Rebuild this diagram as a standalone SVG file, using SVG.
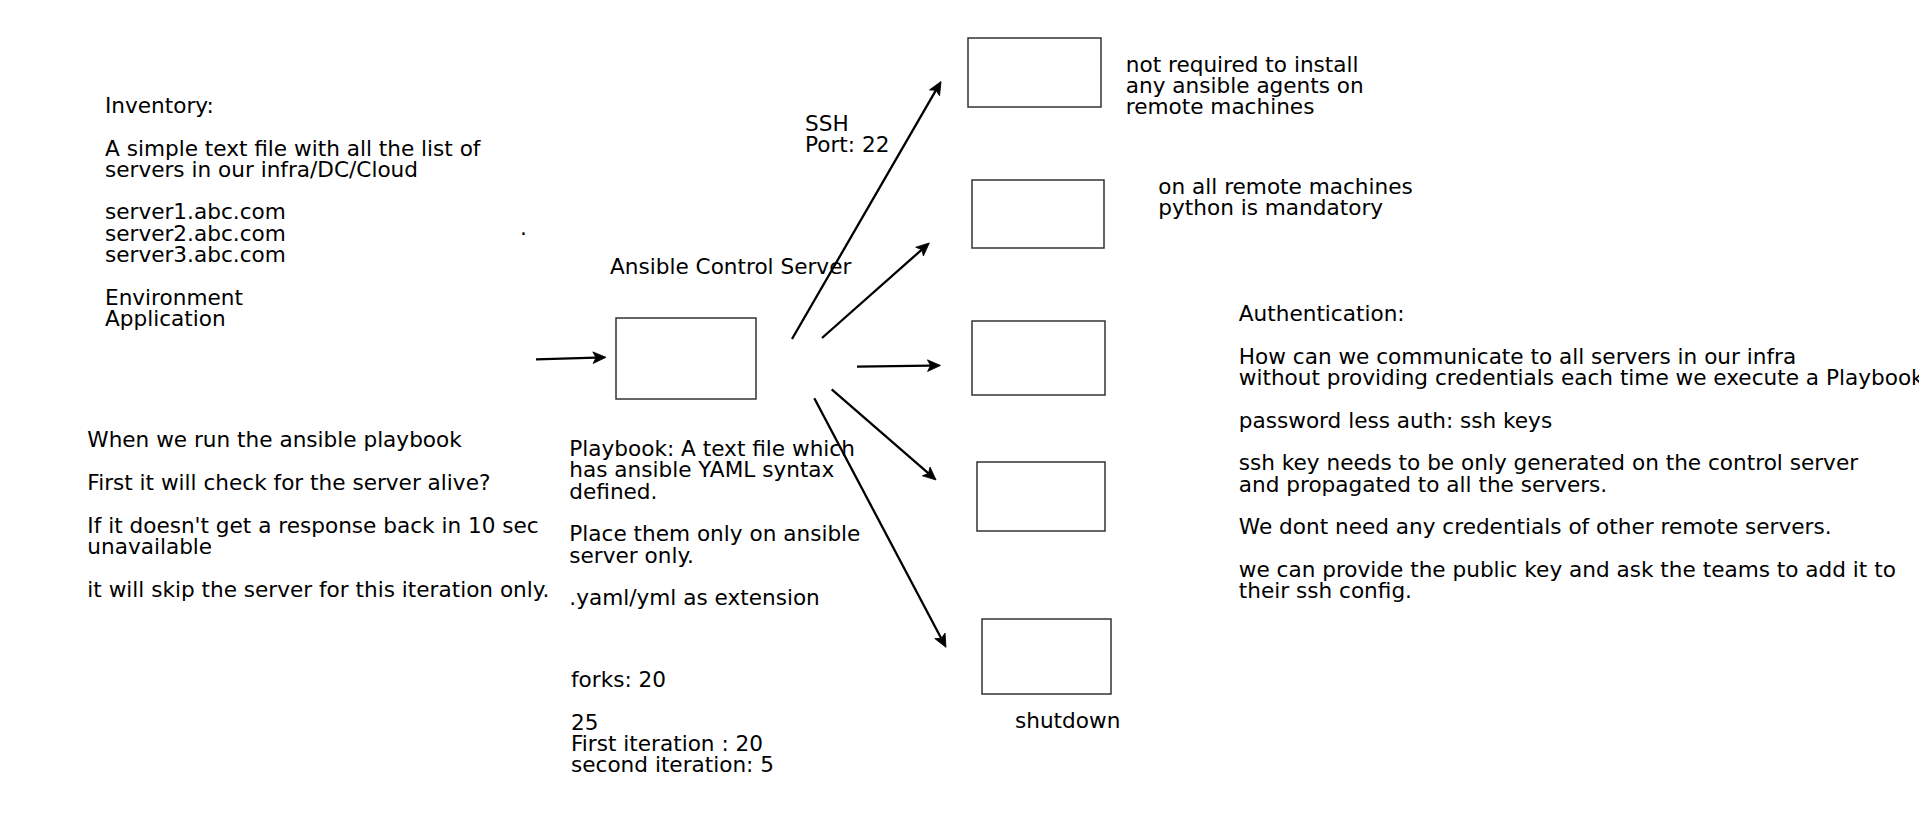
<svg xmlns="http://www.w3.org/2000/svg" width="1919" height="818" viewBox="0 0 1919 818">
<style>
text{font-family:"DejaVu Sans","Liberation Sans",sans-serif;font-size:21.6px;fill:#000}
.box{fill:#fff;stroke:#333;stroke-width:1.5}
.conn{stroke:#000;stroke-width:2.3;fill:none;marker-end:url(#arrow)}
</style>
<defs>
<marker id="arrow" markerUnits="userSpaceOnUse" markerWidth="16" markerHeight="14" viewBox="-1 -7 16 14" refX="3" refY="0" orient="auto">
<path d="M0,-5.8 L13,0 L0,5.8 L3,0 Z" fill="#000" stroke="#000" stroke-width="0.8"/>
</marker>
</defs>
<rect width="1919" height="818" fill="#fff"/>
<g id="inventory-text">
<text x="105" y="112.8">Inventory:</text>
<text x="105" y="155.5">A simple text file with all the list of</text>
<text x="105" y="176.8">servers in our infra/DC/Cloud</text>
<text x="105" y="219.3">server1.abc.com</text>
<text x="105" y="240.6">server2.abc.com</text>
<text x="105" y="261.9">server3.abc.com</text>
<text x="105" y="304.6">Environment</text>
<text x="105" y="325.9">Application</text>
</g>
<g id="dot"><text x="520" y="234.5">.</text></g>
<g id="run-text">
<text x="87.3" y="447.3">When we run the ansible playbook</text>
<text x="87.3" y="490">First it will check for the server alive?</text>
<text x="87.3" y="532.6">If it doesn't get a response back in 10 sec</text>
<text x="87.3" y="553.9">unavailable</text>
<text x="87.3" y="596.6">it will skip the server for this iteration only.</text>
</g>
<g id="control-label"><text x="610" y="274">Ansible Control Server</text></g>
<g id="control-server"><rect class="box" x="616" y="318" width="140" height="81"/></g>
<g id="ssh-label">
<text x="805" y="130.5">SSH</text>
<text x="805" y="151.8">Port: 22</text>
</g>
<g id="playbook-text">
<text x="569.3" y="456">Playbook: A text file which</text>
<text x="569.3" y="477.3">has ansible YAML syntax</text>
<text x="569.3" y="498.6">defined.</text>
<text x="569.3" y="541.3">Place them only on ansible</text>
<text x="569.3" y="562.6">server only.</text>
<text x="569.3" y="605.3">.yaml/yml as extension</text>
</g>
<g id="forks-text">
<text x="571" y="687">forks: 20</text>
<text x="571" y="729.6">25</text>
<text x="571" y="750.9">First iteration : 20</text>
<text x="571" y="772.2">second iteration: 5</text>
</g>
<g id="server1"><rect class="box" x="968" y="38" width="133" height="69"/></g>
<g id="server2"><rect class="box" x="972" y="180" width="132" height="68"/></g>
<g id="server3"><rect class="box" x="972" y="321" width="133" height="74"/></g>
<g id="server4"><rect class="box" x="977" y="462" width="128" height="69"/></g>
<g id="server5"><rect class="box" x="982" y="619" width="129" height="75"/></g>
<g id="shutdown-label"><text x="1015" y="728">shutdown</text></g>
<g id="agents-text">
<text x="1125.8" y="71.7">not required to install</text>
<text x="1125.8" y="93">any ansible agents on</text>
<text x="1125.8" y="114.3">remote machines</text>
</g>
<g id="python-text">
<text x="1158.3" y="194">on all remote machines</text>
<text x="1158.3" y="215.3">python is mandatory</text>
</g>
<g id="auth-text">
<text x="1238.8" y="321">Authentication:</text>
<text x="1238.8" y="363.7">How can we communicate to all servers in our infra</text>
<text x="1238.8" y="385">without providing credentials each time we execute a Playbook</text>
<text x="1238.8" y="427.6">password less auth: ssh keys</text>
<text x="1238.8" y="470.3">ssh key needs to be only generated on the control server</text>
<text x="1238.8" y="491.6">and propagated to all the servers.</text>
<text x="1238.8" y="534.3">We dont need any credentials of other remote servers.</text>
<text x="1238.8" y="576.9">we can provide the public key and ask the teams to add it to</text>
<text x="1238.8" y="598.2">their ssh config.</text>
</g>
<g id="connectors">
<line class="conn" x1="536" y1="359.3" x2="596" y2="357.6"/>
<line class="conn" x1="792" y1="339" x2="936" y2="90.2"/>
<line class="conn" x1="822" y1="338" x2="921.8" y2="249.6"/>
<line class="conn" x1="857" y1="366.7" x2="930.5" y2="365.6"/>
<line class="conn" x1="831.7" y1="389.3" x2="928.5" y2="473.4"/>
<line class="conn" x1="814.3" y1="398.3" x2="941.3" y2="638.5"/>
</g>
</svg>
